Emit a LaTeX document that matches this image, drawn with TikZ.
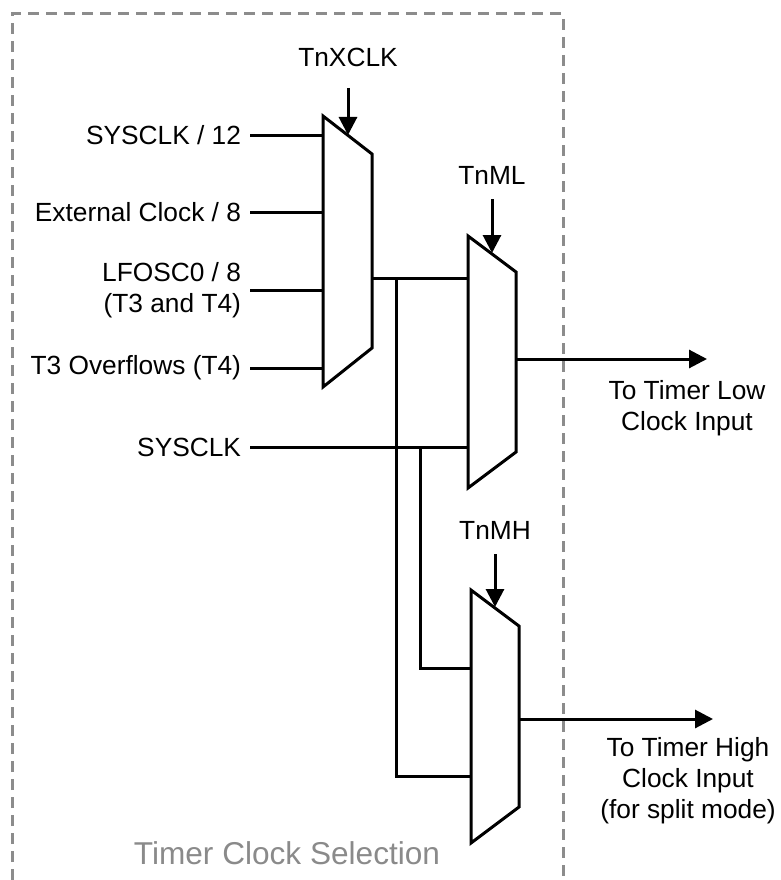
\documentclass[tikz,border=0pt]{standalone}
\usepackage{fontspec}
\setmainfont{Liberation Sans}
\usetikzlibrary{arrows.meta,positioning}
\definecolor{framegray}{HTML}{8C8C8C}
\definecolor{titlegray}{HTML}{8A8A8A}

\begin{document}
\begin{tikzpicture}[x=1pt,y=-1pt,
  wire/.style={line width=3pt},
  sig/.style={line width=3pt,-{Triangle[length=18pt,width=18pt]}},
  muxbox/.style={line width=3pt,line join=miter},
  inlbl/.style={anchor=east,inner sep=0pt,outer xsep=9pt,align=right},
  sellbl/.style={inner sep=0pt,outer ysep=15pt},
  outlbl/.style={inner sep=0pt,align=center},
  font=\fontsize{26.3}{31}\selectfont]
\useasboundingbox (0,0) rectangle (781,880);
\draw[framegray,line width=3pt,dash pattern=on 11pt off 7pt] (12,880) -- (12,14) -- (563,14) -- (563,880);
\node[titlegray,font=\fontsize{31.6}{36}\selectfont] (title) at (287,853) {Timer Clock Selection};

\draw[muxbox] (323,116) -- (372,154) -- (372,348) -- (323,387) -- cycle;
\draw[muxbox] (468,236) -- (516,272) -- (516,452) -- (468,488) -- cycle;
\draw[muxbox] (471,590) -- (519,626) -- (519,807) -- (471,843) -- cycle;

\coordinate (m1a) at (323,135);
\coordinate (m1b) at (323,212);
\coordinate (m1c) at (323,290);
\coordinate (m1d) at (323,368);
\coordinate (m1o) at (372,278);
\coordinate (m1s) at (348,135);
\coordinate (m2a) at (468,278);
\coordinate (m2b) at (468,447);
\coordinate (m2o) at (516,359);
\coordinate (m2s) at (492,253);
\coordinate (m3a) at (471,668);
\coordinate (m3b) at (471,776);
\coordinate (m3o) at (519,719);
\coordinate (m3s) at (495,607);
\coordinate (j1) at (396,278);
\coordinate (j2) at (420,447);
\coordinate (lowend) at (707,359);
\coordinate (highend) at (713,719);

\node[inlbl] (sys12) at (250,135) {SYSCLK / 12};
\node[inlbl] (ext8) at (250,212) {External Clock / 8};
\node[inlbl] (lfo8) at (250,290) {LFOSC0 / 8\\(T3 and T4)};
\node[inlbl] (t3ov) at (250,368) {T3 Overflows (T4)};
\node[inlbl] (sys) at (250,447) {SYSCLK};
\draw[wire] (sys12.east) -- (m1a);
\draw[wire] (ext8.east) -- (m1b);
\draw[wire] (lfo8.east) -- (m1c);
\draw[wire] (t3ov.east) -- (m1d);
\draw[wire] (sys.east) -- (m2b);
\draw[wire] (m1o) -- (m2a);
\draw[wire] (j1) |- (m3b);
\draw[wire] (j2) |- (m3a);

\node[sellbl,outer ysep=21pt,above=47pt of m1s] (tnx) {TnXCLK};
\node[sellbl,above=54pt of m2s] (tnml) {TnML};
\node[sellbl,above=53pt of m3s] (tnmh) {TnMH};
\draw[sig] (tnx) -- (m1s);
\draw[sig] (tnml) -- (m2s);
\draw[sig] (tnmh) -- (m3s);

\draw[sig] (m2o) -- (lowend);
\draw[sig] (m3o) -- (highend);
\node[outlbl] (lowlbl) at (687,408) {To Timer Low\\Clock Input};
\node[outlbl] (highlbl) at (688,781) {To Timer High\\Clock Input\\(for split mode)};
\end{tikzpicture}
\end{document}
